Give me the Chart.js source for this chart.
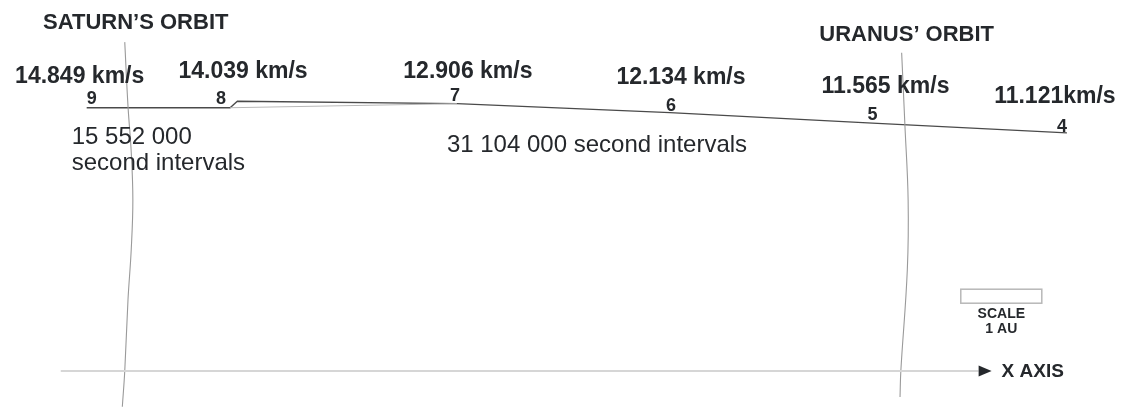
<!DOCTYPE html>
<html>
<head>
<meta charset="utf-8">
<title>Probe between Saturn and Uranus</title>
<script src="https://cdn.jsdelivr.net/npm/chart.js@4/dist/chart.umd.min.js"></script>
<style>
  html, body { margin: 0; padding: 0; background: #fff; }
  #chart { display: block; }
</style>
</head>
<body>
<canvas id="chart" width="1122" height="407"></canvas>
<script>
// positions along the path, speed at each one (x, y in AU)
const positions = ['9', '8', '7', '6', '5', '4'];
const speeds = ['14.849 km/s', '14.039 km/s', '12.906 km/s', '12.134 km/s', '11.565 km/s', '11.121km/s'];
const posX = [9.07, 10.84, 13.64, 16.27, 18.77, 21.17];
const posY = [3.25, 3.25, 3.30, 3.19, 3.06, 2.94];

// small kink drawn just after position 8
const kinkX = 10.93;
const kinkY = 3.33;

// orbit arcs (AU)
const saturnX = [9.54, 9.58, 9.62, 9.64, 9.62, 9.58, 9.54, 9.51];
const saturnY = [4.06, 3.27, 2.70, 2.11, 1.50, 0.88, 0.00, -0.44];
const uranusX = [19.13, 19.17, 19.21, 19.20, 19.12, 19.11];
const uranusY = [3.93, 3.04, 2.11, 1.25, 0.00, -0.32];

// x axis and 1 AU scale bar (AU)
const axisStart = 8.75;
const axisEnd = 20.08;
const scaleBar = [19.86, 20.86];

const intervalTexts = [['15 552 000', 'second intervals'], ['31 104 000 second intervals']];

const toPts = (xs, ys) => xs.map((x, i) => ({ x: x, y: ys[i] }));

const pathPts = [];
posX.forEach((x, i) => {
    pathPts.push({ x: x, y: posY[i] });
    if (i === 1) pathPts.push({ x: kinkX, y: kinkY });
});

const textColor = '#25282c';
const FONT = '"Liberation Sans", Arial, sans-serif';

// label offsets in px from each position
const speedOffsets = [[-7, -31], [13, -36], [11, -32], [11, -35], [13, -36], [-12, -36]];
const numberOffsets = [[5, -9], [-9, -9], [-2, -8], [1, -7], [0, -8], [-5, -6]];

const labelsPlugin = {
    id: 'labels',
    afterDatasetsDraw(chart) {
        const ctx = chart.ctx;
        const xs = chart.scales.x;
        const ys = chart.scales.y;
        const px = v => xs.getPixelForValue(v);
        const py = v => ys.getPixelForValue(v);

        ctx.save();
        ctx.fillStyle = textColor;
        ctx.textAlign = 'center';
        ctx.textBaseline = 'middle';

        // speeds and position numbers
        posX.forEach((x, i) => {
            const X = px(x), Y = py(posY[i]);
            ctx.font = 'bold 23px ' + FONT;
            ctx.fillText(speeds[i], X + speedOffsets[i][0], Y + speedOffsets[i][1]);
            ctx.font = 'bold 18px ' + FONT;
            ctx.fillText(positions[i], X + numberOffsets[i][0], Y + numberOffsets[i][1]);
        });

        // orbit names
        ctx.font = 'bold 22px ' + FONT;
        ctx.fillText('SATURN\u2019S ORBIT', px(saturnX[0]) + 11, py(saturnY[0]) - 19);
        ctx.fillText('URANUS\u2019 ORBIT', px(uranusX[0]) + 5, py(uranusY[0]) - 18);

        // interval notes
        ctx.font = '24px ' + FONT;
        ctx.textAlign = 'left';
        ctx.fillText(intervalTexts[0][0], px(posX[0]) - 15, py(posY[0]) + 30);
        ctx.fillText(intervalTexts[0][1], px(posX[0]) - 15, py(posY[0]) + 56);
        ctx.fillText(intervalTexts[1][0], px(posX[2]) - 10, py(posY[2]) + 42);

        // scale bar
        const bx0 = px(scaleBar[0]), bx1 = px(scaleBar[1]);
        const by = py(1.01);
        ctx.strokeStyle = '#b8b8b8';
        ctx.lineWidth = 1.5;
        ctx.strokeRect(bx0, by, bx1 - bx0, 14);
        ctx.textAlign = 'center';
        ctx.font = 'bold 14px ' + FONT;
        ctx.fillText('SCALE', (bx0 + bx1) / 2, by + 25);
        ctx.fillText('1 AU', (bx0 + bx1) / 2, by + 40);

        // arrow head and axis name
        const ax = px(axisEnd), ay = py(0);
        ctx.beginPath();
        ctx.moveTo(ax, ay - 5.5);
        ctx.lineTo(ax + 13, ay);
        ctx.lineTo(ax, ay + 5.5);
        ctx.closePath();
        ctx.fill();
        ctx.textAlign = 'left';
        ctx.font = 'bold 19px ' + FONT;
        ctx.fillText('X AXIS', ax + 23, ay + 1);
        ctx.restore();
    }
};

const line = (data, color, width) => ({
    data: data,
    showLine: true,
    borderColor: color,
    borderWidth: width,
    pointRadius: 0,
    tension: 0,
    fill: false
});

new Chart(document.getElementById('chart'), {
    type: 'scatter',
    data: {
        datasets: [
            line([{ x: axisStart, y: 0 }, { x: axisEnd, y: 0 }], '#d6d6d6', 2),
            Object.assign(line(toPts(saturnX, saturnY), '#9a9a9a', 1.1), { tension: 0.4 }),
            Object.assign(line(toPts(uranusX, uranusY), '#9a9a9a', 1.1), { tension: 0.4 }),
            line([{ x: posX[1], y: posY[1] }, { x: posX[2], y: posY[2] }], '#b8b8b8', 1),
            line(pathPts, '#4a4a4a', 1.3)
        ]
    },
    options: {
        responsive: false,
        animation: false,
        events: [],
        layout: { padding: 0 },
        plugins: { legend: { display: false }, tooltip: { enabled: false } },
        scales: {
            x: { type: 'linear', display: false, min: 8.0, max: 21.85 },
            y: { type: 'linear', display: false, min: -0.444, max: 4.58 }
        }
    },
    plugins: [labelsPlugin]
});
</script>
</body>
</html>
